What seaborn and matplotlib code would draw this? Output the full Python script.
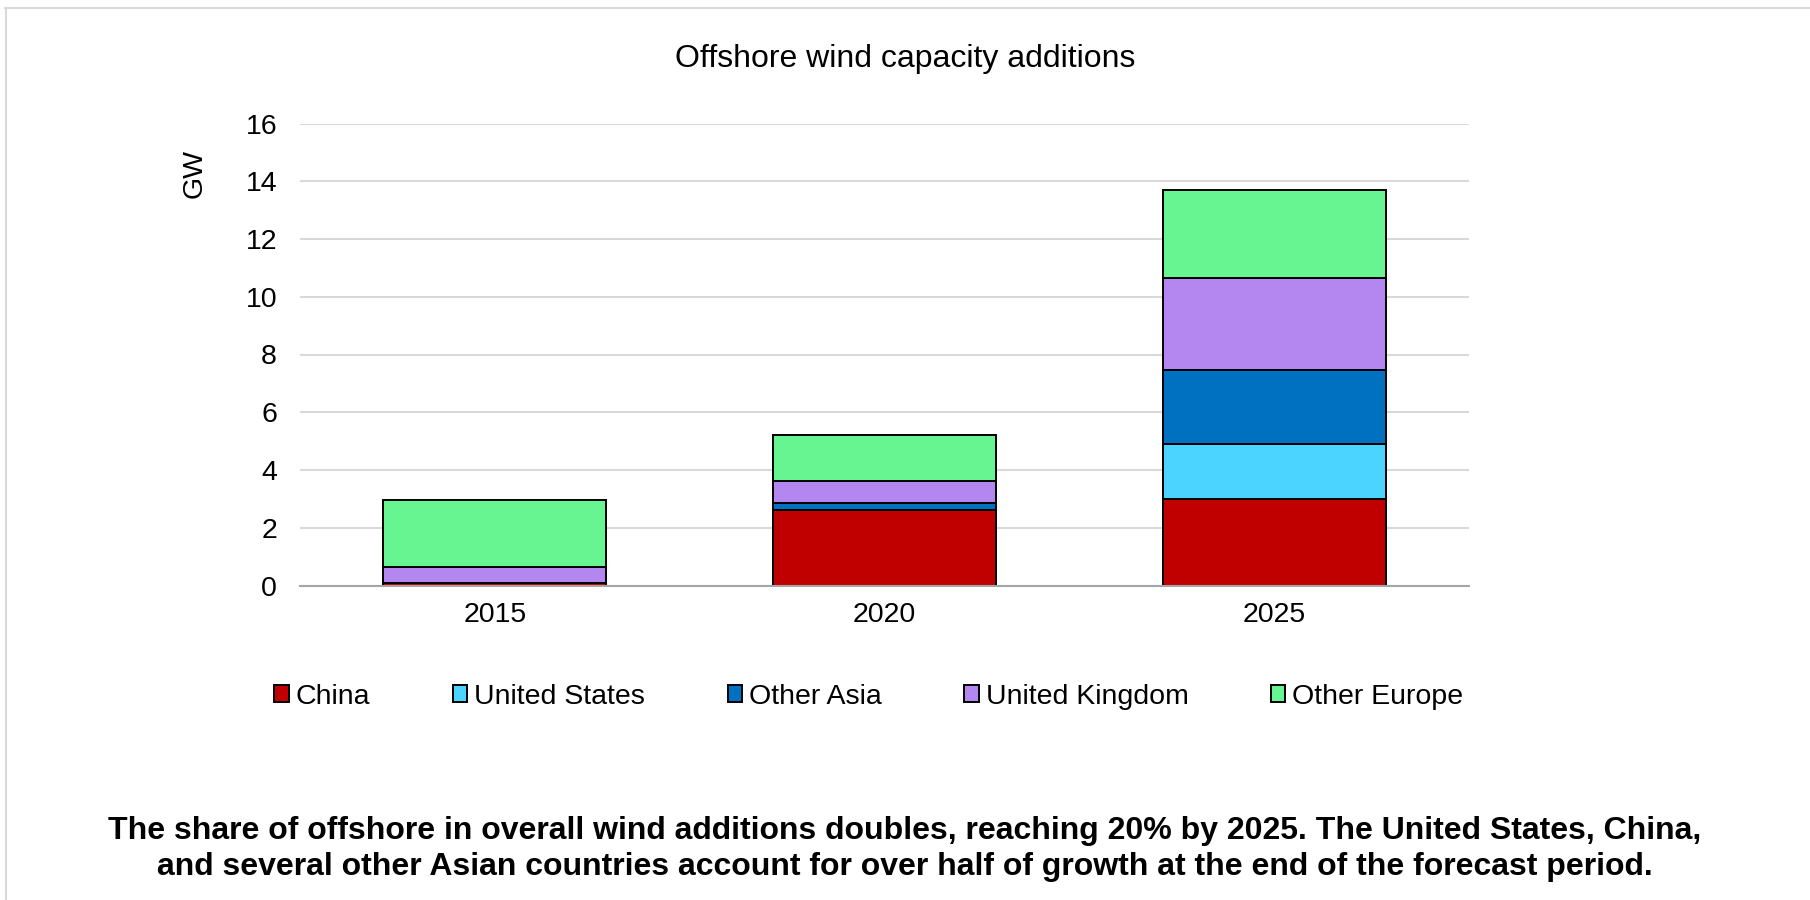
import matplotlib
matplotlib.use("Agg")
import matplotlib.pyplot as plt
import numpy as np
import pandas as pd
import seaborn as sns
from matplotlib.patches import Patch
from matplotlib.lines import Line2D

# Offshore wind capacity additions by region (GW)
years = ["2015", "2020", "2025"]
regions = ["China", "United States", "Other Asia", "United Kingdom", "Other Europe"]
china = [0.10, 2.60, 3.00]
united_states = [0.00, 0.00, 1.90]
other_asia = [0.00, 0.27, 2.55]
united_kingdom = [0.55, 0.75, 3.20]
other_europe = [2.30, 1.60, 3.05]
colors = ["#C00000", "#4BD4FF", "#0070C0", "#B386F0", "#66F591"]

title = "Offshore wind capacity additions"
caption = ("The share of offshore in overall wind additions doubles, reaching 20% by 2025. The United States, China,\n"
           "and several other Asian countries account for over half of growth at the end of the forecast period.")

sns.set_theme(style="white")
plt.rcParams["font.family"] = ["Liberation Sans", "DejaVu Sans"]
plt.rcParams["text.color"] = "black"

fig = plt.figure(figsize=(18.1, 9), dpi=100)
ax = fig.add_axes([300 / 1810, 1 - 585.5 / 900, 1169 / 1810, 462 / 900])

series = [china, united_states, other_asia, united_kingdom, other_europe]
bottom = np.zeros(len(years))
for name, vals, col in zip(regions, series, colors):
    df = pd.DataFrame({"year": years, "value": vals})
    sns.barplot(data=df, x="year", y="value", order=years, bottom=bottom,
                color=col, saturation=1, width=0.573, edgecolor="black",
                linewidth=1.4, ax=ax, zorder=3)
    bottom = bottom + np.array(vals)

ax.set_xlim(-0.5, 2.5)
ax.set_ylim(0, 16)
ax.set_yticks(np.arange(0, 17, 2))
ax.yaxis.grid(True, color="#D9D9D9", linewidth=1.5, zorder=0)
ax.set_axisbelow(True)
for s in ["top", "right", "left"]:
    ax.spines[s].set_visible(False)
ax.spines["bottom"].set_color("#A6A6A6")
ax.spines["bottom"].set_linewidth(1.5)
ax.spines["bottom"].set_zorder(4)
ax.tick_params(axis="both", length=0, labelsize=20.5, colors="black")
ax.tick_params(axis="y", pad=16.5)
ax.tick_params(axis="x", pad=12)
ax.set_xlabel("")
ax.set_ylabel("")

fig.text(195 / 1810, 1 - 173 / 900, "GW", rotation=90, ha="center", va="center",
         fontsize=20.5, color="black")
fig.text(0.5, 1 - 59 / 900, title, ha="center", va="center", fontsize=23, color="black")

handles = [Patch(facecolor=c, edgecolor="black", linewidth=1.4) for c in colors]
fig.legend(handles, regions, loc="center", bbox_to_anchor=(869 / 1810, 1 - 696.5 / 900),
           ncol=5, frameon=False, fontsize=20.5, handlelength=0.5, handleheight=0.5,
           handletextpad=0.25, columnspacing=2.9, labelcolor="black")

fig.text(0.5, 1 - 849 / 900, caption, ha="center", va="center", fontsize=23,
         fontweight="bold", linespacing=1.25, color="black")

# light frame along the top and left edges
fig.add_artist(Line2D([5 / 1810, 1], [1 - 7.5 / 900, 1 - 7.5 / 900], transform=fig.transFigure,
                      color="#D9D9D9", linewidth=1.5))
fig.add_artist(Line2D([5.5 / 1810, 5.5 / 1810], [0, 1 - 7.5 / 900], transform=fig.transFigure,
                      color="#D9D9D9", linewidth=1.5))

fig.savefig("out.png", dpi=100, facecolor="white")
